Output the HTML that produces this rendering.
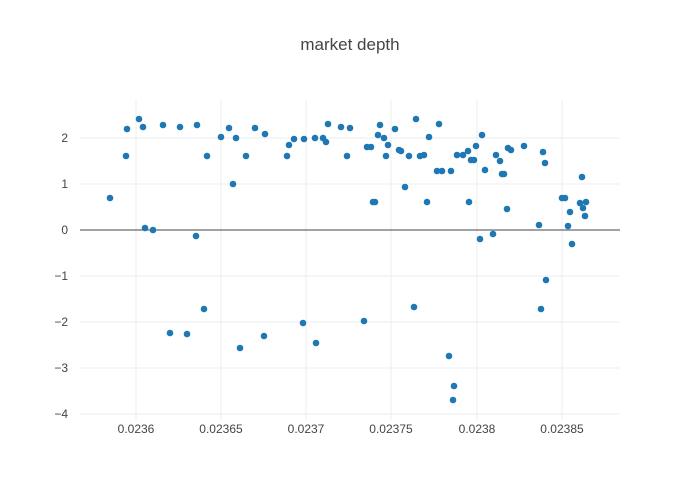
<!DOCTYPE html>
<html><head><meta charset="utf-8"><style>body{margin:0;background:#fff}svg{display:block}</style></head><body>
<svg width="700" height="500" xmlns="http://www.w3.org/2000/svg" font-family="'Liberation Sans',sans-serif">
<rect width="700" height="500" fill="#fff"/>
<g stroke="#eee" stroke-width="1">
<line x1="136" y1="100" x2="136" y2="420"/><line x1="221" y1="100" x2="221" y2="420"/><line x1="306" y1="100" x2="306" y2="420"/><line x1="391" y1="100" x2="391" y2="420"/><line x1="477" y1="100" x2="477" y2="420"/><line x1="562" y1="100" x2="562" y2="420"/>
<line x1="80" y1="138" x2="620" y2="138"/><line x1="80" y1="184" x2="620" y2="184"/><line x1="80" y1="276" x2="620" y2="276"/><line x1="80" y1="322" x2="620" y2="322"/><line x1="80" y1="368" x2="620" y2="368"/><line x1="80" y1="414" x2="620" y2="414"/>
</g>
<line x1="80" y1="230" x2="620" y2="230" stroke="#444" stroke-width="1"/>
<g fill="#444" font-size="12" text-anchor="middle">
<text x="136" y="433">0.0236</text><text x="221" y="433">0.02365</text><text x="306" y="433">0.0237</text><text x="391" y="433">0.02375</text><text x="477" y="433">0.0238</text><text x="562" y="433">0.02385</text>
</g>
<g fill="#444" font-size="12" text-anchor="end">
<text x="68" y="142">2</text><text x="68" y="188">1</text><text x="68" y="234">0</text><text x="68" y="280">−1</text><text x="68" y="326">−2</text><text x="68" y="372">−3</text><text x="68" y="418">−4</text>
</g>
<text x="350" y="50" text-anchor="middle" font-size="17" fill="#444">market depth</text>
<g fill="#1f77b4" id="pts"></g>
</svg>
<script>
var p=[[110,198],[126,156],[127,129],[139,119],[143,127],[145,228],[153,230],[163,125],[170,333],[180,127],[187,334],[196,236],[197,125],[204,309],[207,156],[221,137],[229,128],[233,184],[236,138],[240,348],[246,156],[255,128],[264,336],[265,134],[287,156],[289,145],[294,139],[303,323],[304,139],[315,138],[316,343],[323,138],[326,142],[328,124],[341,127],[347,156],[350,128],[364,321],[367,147],[371,147],[373,202],[375,202],[378,135],[380,125],[384,138],[386,156],[388,145],[395,129],[399,150],[401,151],[405,187],[409,156],[414,307],[416,119],[420,156],[424,155],[427,202],[429,137],[437,171],[439,124],[442,171],[449,356],[451,171],[453,400],[454,386],[457,155],[463,155],[468,151],[469,202],[471,160],[474,160],[476,146],[480,239],[482,135],[485,170],[493,234],[496,155],[500,161],[502,174],[504,174],[507,209],[508,148],[511,150],[524,146],[539,225],[541,309],[543,152],[545,163],[546,280],[562,198],[565,198],[568,226],[570,212],[572,244],[580,203],[582,177],[583,208],[585,216],[586,202]];
var g=document.getElementById('pts'),s='';
p.forEach(function(a){s+='<circle cx="'+a[0]+'" cy="'+a[1]+'" r="3.3"/>';});
g.innerHTML=s;
</script>
</body></html>
